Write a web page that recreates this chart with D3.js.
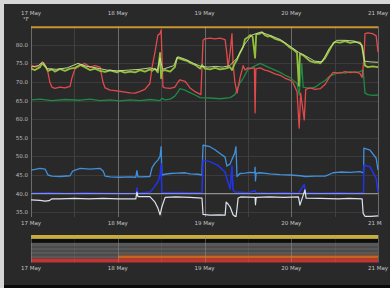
<!DOCTYPE html>
<html>
<head>
<meta charset="utf-8">
<script src="https://cdn.jsdelivr.net/npm/d3@7/dist/d3.min.js"></script>
<style>
  html, body { margin: 0; padding: 0; background: #d6d6d6; }
  svg { display: block; }
</style>
</head>
<body>
<svg id="chart" width="390" height="288"></svg>
<script>
// readings as [hours since 17 May 00:00, value]
var limeSeries = [[0,73.6],[1.1,73.2],[2.5,74.0],[3.0,75.0],[3.9,74.2],[4.7,73.0],[5.8,73.4],[6.6,72.8],[8.0,73.5],[9.4,73.0],
  [10.8,73.6],[12.2,73.8],[13.6,74.6],[14.9,74.0],[16.3,73.2],[17.7,73.6],[19.1,73.0],[20.5,72.7],[21.9,73.1],[23.8,72.6],
  [24.6,73.0],[26.0,72.5],[27.4,72.8],[28.8,72.6],[30.2,73.2],[31.5,72.8],[32.9,73.4],[33.5,73.0],[34.3,73.6],[35.1,72.6],
  [35.7,77.8],[36.0,71.0],[36.2,73.0],[37.1,73.2],[38.5,72.8],[39.8,74.0],[40.4,76.5],[41.2,76.3],[42.6,75.8],[43.4,75.6],
  [44.0,75.2],[45.4,74.6],[46.8,73.6],[47.3,74.6],[48.1,73.6],[49.5,73.4],[50.9,73.8],[52.3,73.4],[53.7,73.6],[55.1,74.0],
  [55.6,73.2],[56.4,75.0],[57.0,76.0],[57.8,77.8],[58.7,79.5],[59.2,81.5],[60.0,82.0],[60.6,82.6],[61.3,82.2],[62.0,76.5],
  [62.3,82.8],[63.4,83.0],[63.9,83.4],[64.7,82.6],[65.6,82.2],[66.1,82.4],[67.5,81.6],[68.9,81.2],[70.3,80.4],[71.7,79.2],
  [72.5,78.8],[73.0,78.4],[73.6,77.8],[74.1,69.0],[74.4,77.6],[75.3,77.2],[75.8,76.8],[77.2,75.6],[78.6,75.2],[79.4,75.3],
  [80.0,75.0],[81.4,76.5],[82.7,78.8],[83.6,80.4],[84.1,80.8],[85.5,80.6],[86.9,81.0],[88.3,80.5],[89.6,80.8],[91.0,80.6],
  [91.6,79.6],[91.9,77.8],[92.4,74.4],[93.2,74.0],[94.5,74.2],[96,74.0]];

var paleSeries = [[0,74.0],[2.0,74.4],[3.2,75.4],[4.5,73.6],[7.0,73.4],[10.0,73.8],[13.0,75.0],[15.5,74.2],[18.0,73.8],[21.0,73.2],
  [24.0,73.0],[27.0,73.2],[30.0,73.4],[33.0,73.8],[35.0,73.2],[35.7,76.5],[36.4,73.4],[39.5,74.4],[40.6,76.8],[43.0,76.0],
  [45.0,75.0],[47.0,74.2],[49.0,74.0],[51.0,74.2],[53.0,74.0],[55.0,74.4],[57.0,76.4],[59.0,80.0],[61.0,82.6],[63.5,83.4],
  [66.0,82.6],[69.0,81.4],[72.0,79.4],[74.0,78.0],[76.0,77.0],[78.5,75.6],[80.5,75.4],[82.5,79.0],[84.5,81.2],[87.0,81.2],
  [89.5,81.0],[91.5,80.0],[92.3,75.6],[94.0,75.4],[96,75.3]];

var redSeries = [[0,74.6],[1.1,74.0],[2.5,74.4],[3.5,75.2],[4.2,74.0],[4.7,72.5],[5.2,70.0],[5.8,68.6],[6.6,68.3],[8.0,68.6],
  [9.4,68.4],[10.8,68.8],[11.3,71.0],[12.2,73.6],[13.6,74.4],[14.9,75.0],[16.3,74.0],[17.7,74.4],[19.1,74.0],[19.9,70.0],
  [20.5,68.4],[21.9,67.8],[23.8,67.6],[26.0,67.3],[27.4,67.1],[28.8,67.0],[30.2,67.5],[31.5,68.0],[32.9,69.6],[33.5,74.0],
  [34.3,78.0],[35.1,82.6],[35.7,83.0],[36.0,84.0],[36.2,78.0],[36.5,68.7],[37.1,68.4],[38.5,68.3],[39.8,68.6],[40.7,70.0],
  [41.2,70.6],[42.6,70.2],[43.4,69.2],[44.0,68.4],[45.4,67.4],[46.2,67.0],[47.0,66.6],[47.6,81.2],[48.1,81.6],[49.5,81.8],
  [50.9,81.6],[52.3,81.8],[53.7,81.4],[54.2,77.5],[54.5,74.0],[55.1,78.0],[55.6,83.0],[55.9,75.0],[56.4,70.0],[57.0,67.0],
  [57.8,71.0],[58.7,74.4],[59.2,73.2],[60.0,73.8],[60.6,73.6],[61.8,73.8],[62.0,61.7],[62.2,73.5],[63.4,73.8],[64.7,73.2],
  [65.6,73.0],[66.1,72.8],[67.5,72.2],[68.9,71.8],[70.3,71.0],[71.7,70.5],[72.5,69.8],[73.6,67.4],[74.2,57.6],[74.6,67.0],
  [75.6,59.8],[76.0,68.0],[77.2,68.4],[78.6,68.0],[80.0,68.2],[81.4,69.4],[82.7,71.5],[83.6,72.6],[85.5,72.4],[86.9,72.8],
  [88.3,72.5],[89.6,72.7],[91.0,72.3],[91.6,71.2],[92.1,76.0],[92.4,83.0],[93.2,83.2],[94.5,83.0],[95.5,82.4],[96,78.0]];

var darkGreenSeries = [[0,65.2],[2.5,65.4],[5.8,65.0],[9.4,65.3],[13.6,65.1],[16.3,65.4],[19.1,65.0],[21.9,65.2],[24.6,64.9],
  [27.4,65.2],[30.2,65.0],[32.9,65.3],[35.7,65.0],[36.2,65.6],[37.1,65.2],[38.5,65.4],[39.8,66.2],[40.7,67.4],[41.2,68.2],
  [42.6,67.8],[43.4,67.4],[45.4,66.5],[46.8,65.8],[49.5,65.7],[52.3,65.5],[55.1,65.8],[56.4,66.6],[57.8,69.8],[58.7,71.0],
  [60.0,73.4],[61.3,74.0],[63.4,75.0],[64.7,74.4],[65.6,74.0],[67.5,73.2],[68.9,72.6],[70.3,71.8],[71.7,71.2],[72.5,70.5],
  [73.6,69.6],[74.2,66.5],[74.9,75.0],[75.3,68.6],[77.2,68.3],[78.6,68.6],[80.0,69.6],[81.4,70.4],[82.7,71.6],[84.1,72.2],
  [85.5,72.6],[86.9,72.4],[88.3,72.8],[89.6,72.5],[91.0,72.8],[91.9,73.2],[92.4,67.0],[93.2,66.6],[94.5,66.4],[96,66.5]];

var lightBlueSeries = [[0,46.3],[1.1,46.5],[2.5,46.8],[3.9,46.6],[4.7,45.0],[5.8,44.7],[8.0,44.6],[10.8,44.8],[11.5,46.0],
  [12.2,46.3],[13.6,46.8],[16.3,46.6],[19.1,46.8],[20.0,46.0],[20.5,44.7],[21.9,44.5],[24.6,44.4],[27.4,44.5],[29.0,44.4],
  [29.3,46.2],[29.6,44.5],[30.2,44.5],[32.9,44.6],[33.5,47.0],[34.3,48.2],[35.1,49.0],[35.7,50.0],[36.0,52.6],[36.2,45.0],
  [37.1,45.2],[38.5,45.4],[40.4,45.5],[42.6,45.6],[44.0,45.3],[46.2,45.2],[47.3,45.0],[47.6,53.0],[49.5,52.6],[50.9,51.8],
  [52.3,50.8],[53.7,49.8],[54.2,47.4],[55.1,48.0],[55.6,49.2],[56.4,51.0],[56.7,52.6],[57.0,44.6],[57.8,45.4],[59.2,45.5],
  [60.6,45.7],[61.9,45.6],[62.0,47.1],[62.1,43.4],[62.3,45.5],[63.4,45.6],[66.1,45.3],[68.9,45.1],[71.7,45.0],[74.4,44.8],
  [76.0,44.6],[78.6,44.7],[81.4,44.7],[83.6,45.6],[85.5,45.8],[88.3,45.7],[91.0,45.9],[92.0,45.6],[92.1,52.2],[93.8,51.7],
  [95.5,49.5],[96,46.3]];

var darkBlueSeries = [[0,40.1],[5,40.2],[10,40.0],[15,40.2],[20,40.1],[25,40.0],[29.2,40.1],[29.3,41.5],[29.5,40.1],[33,40.4],
  [33.5,41.0],[34.3,42.0],[35.1,43.2],[35.7,45.0],[36.0,48.0],[36.2,40.2],[40,40.3],[44,40.2],[47.3,40.3],[47.6,49.0],
  [49.5,48.6],[51.7,47.6],[53.7,45.8],[54.2,44.0],[55.1,41.2],[55.6,47.4],[55.9,41.0],[56.4,40.4],[60,40.2],[62,40.8],
  [62.2,40.2],[66,40.1],[70,40.2],[74,40.1],[75.6,42.4],[75.9,40.2],[80,40.1],[85,40.2],[90,40.1],[92.0,40.2],[92.1,47.6],
  [93.8,47.2],[95.5,44.1],[96,40.4]];

var whiteSeries = [[0,38.3],[2.5,38.2],[3.9,38.0],[5.0,38.1],[5.8,38.6],[8,38.6],[12,38.7],[16,38.6],[20,38.7],[24,38.6],
  [29,38.6],[29.3,40.4],[29.6,39.2],[32.9,39.2],[34.3,37.7],[35.1,36.1],[35.7,34.3],[36.2,36.4],[37.1,39.0],[40,39.1],
  [44,39.0],[47.3,38.8],[47.6,34.4],[49.5,34.2],[52,34.3],[53.7,34.2],[54.0,37.7],[54.5,37.2],[55.1,36.4],[55.9,34.3],
  [56.7,33.7],[57.0,36.0],[57.3,38.8],[58,39.1],[62,39.0],[62.1,37.0],[62.3,39.0],[66,39.1],[70,39.0],[74,39.1],[74.4,36.9],
  [75.8,41.0],[76.1,38.8],[80,38.7],[85,38.6],[88,38.7],[91.6,38.6],[91.9,34.7],[92.4,33.9],[94,33.9],[96,34.0]];

var limitHigh = 85;
var limitLow = 40;
var yTicks = [35, 40, 45, 50, 55, 60, 65, 70, 75, 80];
var unitLabel = "°F";

// state strip: lanes and [lane, startHour, endHour, state]
var laneNames = ["L1", "L2", "L3", "L4", "L5", "L6", "L7"];
var laneSegments = [
  ["L1", 0, 96, "warn"], ["L2", 0, 96, "off"], ["L3", 0, 96, "idle"], ["L4", 0, 96, "idle"],
  ["L5", 0, 96, "idle"], ["L6", 0, 24, "idle"], ["L6", 24, 96, "heat"], ["L7", 0, 96, "alarm"]
];

var stateColor = { warn: "#c7ad3e", off: "#0d0d0d", idle: "#585858", heat: "#c4661f", alarm: "#c03434" };

var t0 = new Date(2021, 4, 17);
function toDate(h) { return new Date(t0.getTime() + h * 3600000); }

var svg = d3.select("#chart");
var plotLeft = 31, plotRight = 378, plotTop = 26.2, plotBottom = 217;

// panel
svg.append("rect").attr("x", 4).attr("y", 4).attr("width", 386).attr("height", 284).attr("fill", "#0a0a0a");
svg.append("rect").attr("x", 4).attr("y", 4).attr("width", 386).attr("height", 281).attr("fill", "#292929");

var x = d3.scaleTime().domain([t0, toDate(96)]).range([plotLeft, plotRight]);
var y = d3.scaleLinear().domain([35, 85]).range([212.2, plotTop]);

var defs = svg.append("defs");
defs.append("clipPath").attr("id", "plotClip")
  .append("rect").attr("x", plotLeft).attr("y", plotTop - 2)
  .attr("width", plotRight - plotLeft + 1).attr("height", plotBottom - plotTop + 2);

var fontFam = "DejaVu Sans, sans-serif";

// grid
var grid = svg.append("g");
grid.selectAll(".hgrid").data(yTicks).enter().append("line")
  .attr("x1", plotLeft).attr("x2", plotRight)
  .attr("y1", function (d) { return Math.round(y(d)) + 0.5; })
  .attr("y2", function (d) { return Math.round(y(d)) + 0.5; })
  .attr("stroke", "#3b3b3b").attr("stroke-width", 1);

var halfDays = x.ticks(d3.timeHour.every(12));
grid.selectAll(".vgrid").data(halfDays).enter().append("line")
  .attr("x1", function (d) { return Math.round(x(d)) + 0.5; })
  .attr("x2", function (d) { return Math.round(x(d)) + 0.5; })
  .attr("y1", plotTop).attr("y2", plotBottom)
  .attr("stroke", function (d) { return d.getHours() === 0 ? "#6c6c6c" : "#404040"; })
  .attr("stroke-width", 1);

// y labels
svg.append("g").selectAll("text").data(yTicks).enter().append("text")
  .attr("x", 28).attr("y", function (d) { return y(d) + 2; })
  .attr("text-anchor", "end").attr("font-family", fontFam).attr("font-size", "5.5px")
  .attr("fill", "#bdbdbd").text(function (d) { return d3.format(".1f")(d); });

svg.append("text").attr("x", 23).attr("y", 21).attr("font-family", fontFam).attr("font-size", "5.5px")
  .attr("fill", "#c8c8c8").text(unitLabel);

// day labels
var days = x.ticks(d3.timeDay.every(1));
var fmt = d3.timeFormat("%d %b");
defs.append("clipPath").attr("id", "labelClip")
  .append("rect").attr("x", 0).attr("y", 0).attr("width", 382).attr("height", 288);
function dayLabels(yPos, clip) {
  var g = svg.append("g");
  if (clip) { g.attr("clip-path", "url(#labelClip)"); }
  g.selectAll("text").data(days).enter().append("text")
    .attr("x", function (d) { return x(d); }).attr("y", yPos)
    .attr("text-anchor", "middle").attr("font-family", fontFam).attr("font-size", "5.5px")
    .attr("fill", "#c4c4c4").text(function (d) { return fmt(d); });
}
dayLabels(14.5, false);
dayLabels(225, true);
dayLabels(270, false);

// series
var plot = svg.append("g").attr("clip-path", "url(#plotClip)");
var line = d3.line()
  .x(function (d) { return x(toDate(d[0])); })
  .y(function (d) { return y(d[1]); });

function drawSeries(data, color, width) {
  plot.append("path").datum(data)
    .attr("fill", "none").attr("stroke", color).attr("stroke-width", width)
    .attr("stroke-linejoin", "round").attr("d", line);
}

drawSeries(darkGreenSeries, "#1f8a45", 1.3);
drawSeries(redSeries, "#e2494b", 1.3);
drawSeries(limeSeries, "#93c03c", 1.8);
drawSeries(paleSeries, "#cfe39c", 0.9);
drawSeries(lightBlueSeries, "#4190dc", 1.3);
drawSeries(darkBlueSeries, "#2233ee", 1.5);

plot.append("line")
  .attr("x1", plotLeft).attr("x2", plotRight).attr("y1", y(limitLow)).attr("y2", y(limitLow))
  .attr("stroke", "#bdbdbd").attr("stroke-width", 0.9).attr("opacity", 0.85);

drawSeries(whiteSeries, "#dde3ec", 1.2);

plot.append("line")
  .attr("x1", plotLeft).attr("x2", plotRight).attr("y1", y(limitHigh) + 1).attr("y2", y(limitHigh) + 1)
  .attr("stroke", "#c9952c").attr("stroke-width", 2);

// state strip
var lane = d3.scaleBand().domain(laneNames).range([235, 262.5]).padding(0);
var strip = svg.append("g");
strip.selectAll("rect").data(laneSegments).enter().append("rect")
  .attr("x", function (d) { return x(toDate(d[1])); })
  .attr("width", function (d) { return x(toDate(d[2])) - x(toDate(d[1])); })
  .attr("y", function (d) { return lane(d[0]); })
  .attr("height", lane.bandwidth())
  .attr("fill", function (d) { return stateColor[d[3]]; });

strip.selectAll(".sep").data(laneNames.slice(3, 6)).enter().append("line")
  .attr("x1", plotLeft).attr("x2", plotRight)
  .attr("y1", function (d) { return lane(d) + 0.5; }).attr("y2", function (d) { return lane(d) + 0.5; })
  .attr("stroke", "#444").attr("stroke-width", 0.8);

strip.selectAll(".vday").data(halfDays).enter().append("line")
  .attr("x1", function (d) { return Math.round(x(d)) + 0.5; })
  .attr("x2", function (d) { return Math.round(x(d)) + 0.5; })
  .attr("y1", 235).attr("y2", 262.5)
  .attr("stroke", "#9a9a9a")
  .attr("stroke-opacity", function (d) { return d.getHours() === 0 ? 0.45 : 0.12; });
</script>
</body>
</html>
